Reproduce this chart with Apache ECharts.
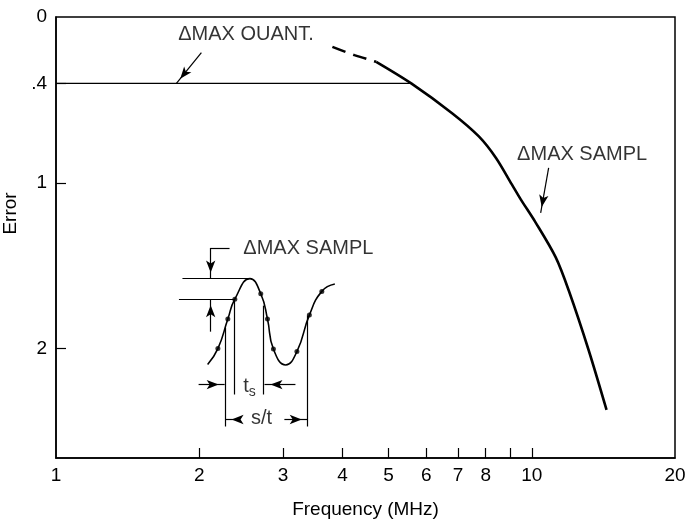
<!DOCTYPE html>
<html>
<head>
<meta charset="utf-8">
<script src="https://cdn.jsdelivr.net/npm/echarts@6/dist/echarts.min.js"></script>
<style>
html,body{margin:0;padding:0;background:#fff}
#main{width:688px;height:520px}
</style>
</head>
<body>
<div id="main"></div>
<script>
// axis ticks / labels
var xTicks = [2, 3, 4, 5, 6, 7, 8, 9, 10]
var xLabels = [1, 2, 3, 4, 5, 6, 7, 8, 10, 20]
var yTicks = [0.4, 1, 2]
var yLabels = [0, 0.4, 1, 2]

// main curve (dashed start, then solid)
var freqDashed = [3.81, 4.24, 4.71]
var errDashed = [0.18, 0.23, 0.27]
var freqSolid = [4.71, 5.58, 6.80, 7.74, 8.41, 9.08, 9.48, 10.19, 11.23, 11.96, 13.17, 14.36]
var errSolid = [0.27, 0.40, 0.58, 0.72, 0.85, 1.01, 1.10, 1.24, 1.45, 1.65, 2.01, 2.37]

// quantization level
var quantFreq = [1, 5.58]
var quantErr = [0.4, 0.4]

// inset sampled wave
var waveFreq = [2.083, 2.189, 2.297, 2.376, 2.557, 2.694, 2.783, 2.864, 3.040, 3.209, 3.408, 3.620, 3.855]
var waveErr = [2.096, 2.000, 1.822, 1.702, 1.578, 1.669, 1.822, 2.003, 2.099, 2.018, 1.798, 1.655, 1.611]
var dotFreq = [2.189, 2.297, 2.376, 2.694, 2.783, 2.864, 3.209, 3.408, 3.620]
var dotErr = [2.000, 1.822, 1.702, 1.669, 1.822, 2.003, 2.018, 1.798, 1.655]

// plain guide lines of the inset [x1, y1, x2, y2]
var guideSegs = [
    [2.272, 1.873, 2.272, 2.470],
    [2.373, 1.705, 2.373, 2.277],
    [2.730, 1.741, 2.730, 2.277],
    [3.381, 1.801, 3.381, 2.470],
    [1.844, 1.578, 2.557, 1.578],
    [1.813, 1.702, 2.376, 1.702],
    [2.316, 1.393, 2.114, 1.393]
]
// arrows [x1, y1, x2(tip), y2(tip)]
var arrowSegs = [
    [2.021, 0.215, 1.791, 0.4],
    [10.85, 0.910, 10.44, 1.181],
    [2.114, 1.393, 2.114, 1.578],
    [2.114, 1.898, 2.114, 1.702],
    [1.994, 2.217, 2.262, 2.217],
    [3.186, 2.217, 2.743, 2.217],
    [2.431, 2.428, 2.272, 2.428],
    [3.020, 2.428, 3.381, 2.428]
]
// text labels
var noteText = ['ΔMAX OUANT.', 'ΔMAX SAMPL', 'ΔMAX SAMPL', '{t|t}{s|s}', 's/t']
var noteFreq = [2.508, 12.76, 3.392, 2.551, 2.703]
var noteErr = [0.108, 0.831, 1.398, 2.229, 2.422]

var font = 'Liberation Sans, Arial, Helvetica, sans-serif'

function pairs(xs, ys) {
    var out = []
    for (var i = 0; i < xs.length; i++) out.push([xs[i], ys[i]])
    return out
}

var markData = []
for (let s of guideSegs) {
    markData.push([{coord: [s[0], s[1]], symbol: 'none'}, {coord: [s[2], s[3]], symbol: 'none'}])
}
for (let s of arrowSegs) {
    markData.push([{coord: [s[0], s[1]], symbol: 'none'},
        {coord: [s[2], s[3]], symbol: 'arrow', symbolSize: [7, 12], symbolOffset: [0, 6]}])
}

var notes = []
for (var i = 0; i < noteText.length; i++) {
    notes.push({name: noteText[i], value: [noteFreq[i], noteErr[i]]})
}

var chart = echarts.init(document.getElementById('main'))
var option = {
    animation: false,
    grid: {
        left: 56, right: 13, top: 17, bottom: 62,
        containLabel: false,
        outerBoundsMode: 'none',
        show: true, borderColor: '#000', borderWidth: 1.5
    },
    xAxis: {
        type: 'log',
        logBase: 10,
        min: 1,
        max: 20,
        name: 'Frequency (MHz)',
        nameLocation: 'middle',
        nameGap: 42,
        nameTextStyle: {color: '#000', fontSize: 19, fontFamily: font},
        axisLine: {onZero: false, lineStyle: {color: '#000', width: 1.5}},
        axisTick: {inside: true, length: 10, customValues: xTicks, lineStyle: {color: '#000', width: 1.2}},
        axisLabel: {customValues: xLabels, color: '#000', fontSize: 19, fontFamily: font, margin: 8},
        splitLine: {show: false},
        minorTick: {show: false}
    },
    yAxis: {
        type: 'value',
        inverse: true,
        min: 0,
        max: 2.66,
        name: 'Error',
        nameLocation: 'middle',
        nameGap: 32,
        nameTextStyle: {color: '#000', fontSize: 19, fontFamily: font, padding: [0, 0, 0, 48]},
        axisLine: {onZero: false, lineStyle: {color: '#000', width: 1.5}},
        axisTick: {inside: true, length: 10, customValues: yTicks, lineStyle: {color: '#000', width: 1.2}},
        axisLabel: {
            customValues: yLabels, color: '#000', fontSize: 19, fontFamily: font, margin: 9,
            formatter: function (v) { return v == 0.4 ? '.4' : String(v) }
        },
        splitLine: {show: false}
    },
    series: [
        {
            name: 'dashed', type: 'line', data: pairs(freqDashed, errDashed),
            symbol: 'none', smooth: 0.3, silent: true,
            lineStyle: {color: '#000', width: 2.6, type: [14, 8]}
        },
        {
            name: 'curve', type: 'line', data: pairs(freqSolid, errSolid),
            symbol: 'none', smooth: 0.3, silent: true,
            lineStyle: {color: '#000', width: 2.6}
        },
        {
            name: 'quant', type: 'line', data: pairs(quantFreq, quantErr),
            symbol: 'none', silent: true,
            lineStyle: {color: '#000', width: 1.2},
            markLine: {
                silent: true,
                animation: false,
                label: {show: false},
                emphasis: {disabled: true},
                lineStyle: {color: '#000', width: 1.2, type: 'solid'},
                data: markData
            }
        },
        {
            name: 'wave', type: 'line', data: pairs(waveFreq, waveErr),
            symbol: 'none', smooth: 0.5, silent: true,
            lineStyle: {color: '#000', width: 1.6}
        },
        {
            name: 'samples', type: 'scatter', data: pairs(dotFreq, dotErr),
            symbolSize: 5, silent: true,
            itemStyle: {color: '#000'}
        },
        {
            name: 'notes', type: 'scatter', data: notes,
            symbolSize: 0, silent: true,
            label: {
                show: true, position: 'inside', color: '#000',
                fontSize: 20, fontFamily: font,
                formatter: function (p) { return p.name },
                rich: {
                    t: {fontSize: 20, fontFamily: font, color: '#000'},
                    s: {fontSize: 14, fontFamily: font, color: '#000', padding: [12, 0, 0, 0]}
                }
            }
        }
    ]
}
chart.setOption(option)
</script>
</body>
</html>
